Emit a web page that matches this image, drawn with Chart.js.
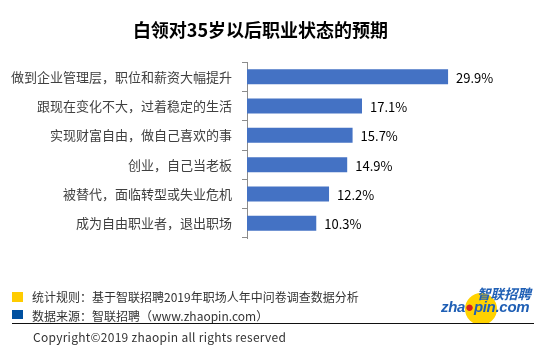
<!DOCTYPE html>
<html><head><meta charset="utf-8">
<script src="https://cdn.jsdelivr.net/npm/chart.js@4/dist/chart.umd.min.js"></script>
<style>
html,body{margin:0;padding:0;background:#fff;}
#wrap{position:relative;width:546px;height:351px;overflow:hidden;font-family:"Noto Sans CJK SC","Noto Sans",sans-serif;}
#c{position:absolute;left:0;top:0;}
.t{position:absolute;white-space:nowrap;}
</style></head><body>
<div id="wrap">
<canvas id="c" width="546" height="351"></canvas>
<div class="t" style="left:0;width:521px;top:14px;text-align:center;font-size:18px;font-weight:bold;color:#000;line-height:30px;">白领对35岁以后职业状态的预期</div>
<div style="position:absolute;left:12px;top:292px;width:11px;height:10px;background:#FFCC00"></div>
<div style="position:absolute;left:12px;top:310px;width:11px;height:9px;background:#0050A0"></div>
<div class="t" style="left:32px;top:288px;font-size:12px;line-height:18px;color:#333;">统计规则：基于智联招聘2019年职场人年中问卷调查数据分析</div>
<div class="t" style="left:32px;top:307px;font-size:12px;line-height:18px;color:#333;">数据来源：智联招聘（www.zhaopin.com）</div>
<div style="position:absolute;left:12px;top:323px;width:522px;height:1px;background:#111"></div>
<div class="t" style="left:33px;top:328px;font-size:12px;line-height:18px;color:#333;letter-spacing:0.27px;">Copyright©2019 zhaopin all rights reserved</div>
<div style="position:absolute;left:465px;top:293px;width:32px;height:32px;border-radius:50%;background:#FFD200;clip-path:inset(0 0 2px 0);"></div>
<div class="t" style="left:477px;top:284px;font-size:13.5px;line-height:18px;font-weight:bold;font-style:italic;color:#1f5fb5;">智联招聘</div>
<div class="t" style="left:441px;top:298px;font-size:15px;line-height:18px;font-weight:bold;font-style:italic;color:#1f5fb5;font-family:'Liberation Sans',Arial,sans-serif;letter-spacing:-0.3px;">zha<span style="color:#d42020">●</span>pin.com</div>
</div>
<script>
const categories = ["做到企业管理层，职位和薪资大幅提升","跟现在变化不大，过着稳定的生活","实现财富自由，做自己喜欢的事","创业，自己当老板","被替代，面临转型或失业危机","成为自由职业者，退出职场"];
const values = [29.9, 17.1, 15.7, 14.9, 12.2, 10.3];
const valueLabels = ["29.9%","17.1%","15.7%","14.9%","12.2%","10.3%"];

const labelPlugin = {
  id: 'vlabels',
  afterDatasetsDraw(chart) {
    const ctx = chart.ctx;
    const meta = chart.getDatasetMeta(0);
    ctx.save();
    ctx.font = '13px "Noto Sans CJK SC","Noto Sans",sans-serif';
    ctx.fillStyle = '#000';
    ctx.textBaseline = 'middle';
    ctx.textAlign = 'left';
    meta.data.forEach((bar, i) => {
      ctx.fillText(valueLabels[i], bar.x + 8, bar.y + 1);
    });
    ctx.restore();
  }
};

new Chart(document.getElementById('c'), {
  type: 'bar',
  data: { labels: categories, datasets: [{ data: values, backgroundColor: '#4472C4', borderWidth: 0, barPercentage: 0.51, categoryPercentage: 1 }] },
  options: {
    indexAxis: 'y',
    responsive: false,
    animation: false,
    layout: { padding: { top: 62, bottom: 113, left: 0, right: 30 } },
    plugins: { legend: { display: false }, tooltip: { enabled: false } },
    scales: {
      x: { display: false, min: 0, max: 40 },
      y: {
        afterFit(s) { s.width = 247; },
        grid: { drawOnChartArea: false, tickLength: 5, color: '#8c8c8c', offset: true },
        border: { color: '#8c8c8c' },
        ticks: { color: '#404040', padding: 10, font: { size: 13, family: '"Noto Sans CJK SC","Noto Sans",sans-serif' } }
      }
    }
  },
  plugins: [labelPlugin]
});
</script>
</body></html>
